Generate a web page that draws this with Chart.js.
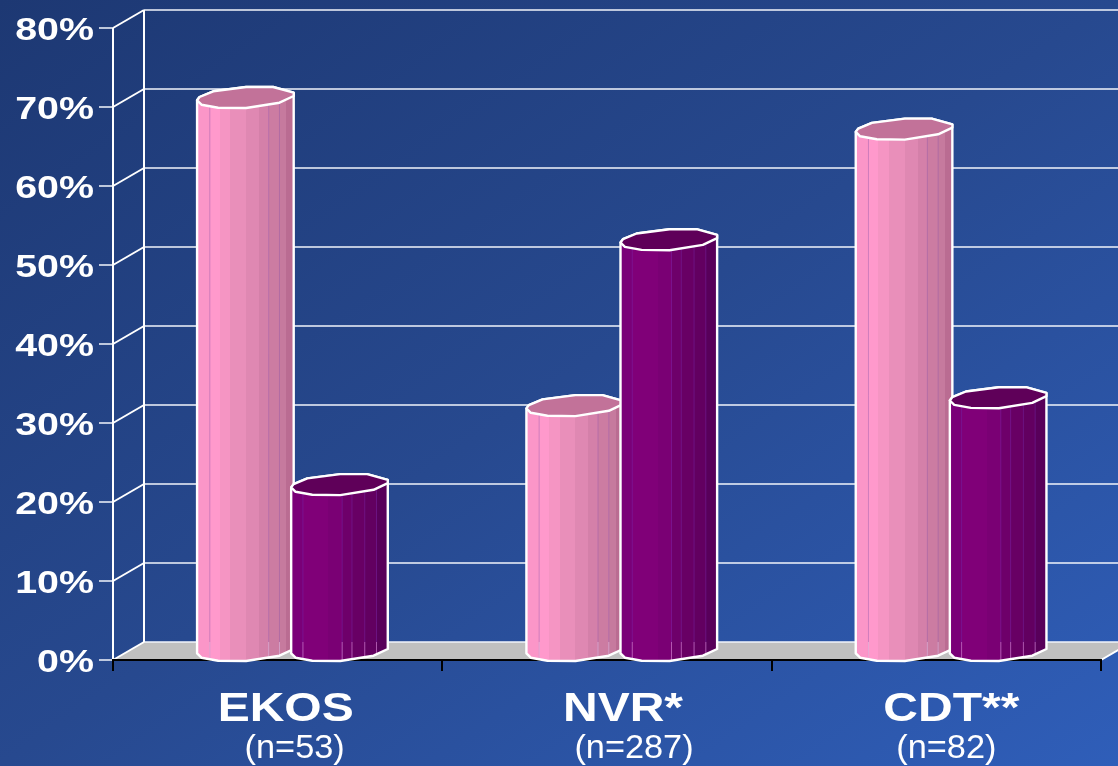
<!DOCTYPE html>
<html>
<head>
<meta charset="utf-8">
<title>Chart</title>
<script src="https://cdn.jsdelivr.net/npm/chart.js@4"></script>
<style>
    html, body { margin: 0; padding: 0; background: #2a4f9f; overflow: hidden; }
    canvas { display: block; }
</style>
</head>
<body>
<canvas id="chart" width="1118" height="766"></canvas>
<script>
const categories = ["EKOS", "NVR*", "CDT**"];
const sampleSizes = ["(n=53)", "(n=287)", "(n=82)"];
const pinkValues = [70, 31, 66];
const purpleValues = [21, 52, 32];

const depthX = 31;
const depthY = 18;

/* text in the picture is wider than the installed fonts */
function wideText(ctx, text, x, y, font, stretch, align) {
    ctx.save();
    ctx.translate(x, y);
    ctx.scale(stretch, 1);
    ctx.font = font;
    ctx.textAlign = align;
    ctx.textBaseline = "alphabetic";
    ctx.fillStyle = "#ffffff";
    ctx.fillText(text, 0, 0);
    ctx.restore();
}

function line(ctx, x1, y1, x2, y2, color, width) {
    ctx.beginPath();
    ctx.moveTo(x1, y1);
    ctx.lineTo(x2, y2);
    ctx.strokeStyle = color;
    ctx.lineWidth = width;
    ctx.stroke();
}

/* background, floor and walls */
const wallsPlugin = {
    id: "walls",
    beforeDraw(chart) {
        const ctx = chart.ctx;
        const { left, right, top, bottom } = chart.chartArea;
        const yScale = chart.scales.y;

        const bg = ctx.createLinearGradient(0, 0, 714, 1042);
        bg.addColorStop(0, "#1d3873");
        bg.addColorStop(0.5, "#27498f");
        bg.addColorStop(1, "#2f5eb9");
        ctx.fillStyle = bg;
        ctx.fillRect(0, 0, chart.width, chart.height);

        ctx.beginPath();
        ctx.moveTo(left, bottom);
        ctx.lineTo(left + depthX, bottom - depthY);
        ctx.lineTo(right + depthX, bottom - depthY);
        ctx.lineTo(right, bottom);
        ctx.closePath();
        ctx.fillStyle = "#c0c0c0";
        ctx.fill();

        yScale.ticks.forEach(t => {
            const y = yScale.getPixelForValue(t.value);
            line(ctx, left + depthX, y - depthY, chart.width, y - depthY, "#f2f5fb", 1.6);
            line(ctx, left, y, left + depthX, y - depthY, "#ffffff", 2);
            line(ctx, left - 14, y, left, y, "#e6ebf5", 1.6);
        });
        line(ctx, left, top, left, bottom, "#ffffff", 2);
        line(ctx, left + depthX, top - depthY, left + depthX, bottom - depthY, "#ffffff", 2);
        line(ctx, right, bottom, right + depthX, bottom - depthY, "#ffffff", 2);
    },
    afterDraw(chart) {
        const ctx = chart.ctx;
        const yScale = chart.scales.y;
        const xScale = chart.scales.x;
        const shiftBold = [8, 16, 15];
        const shiftSmall = [17, 27, 10];

        yScale.ticks.forEach(t => {
            wideText(ctx, t.value + "%", 94, yScale.getPixelForValue(t.value) + 12, "bold 31px 'Liberation Sans'", 1.27, "right");
        });
        categories.forEach((name, i) => {
            const x = xScale.getPixelForValue(i);
            wideText(ctx, name, x + shiftBold[i], 721, "bold 40px 'Liberation Sans'", 1.2, "center");
            wideText(ctx, sampleSizes[i], x + shiftSmall[i], 758, "33px 'Liberation Sans'", 1.04, "center");
        });
    }
};

/* outline of the cylinder end, relative to its centre (x in half widths, y in px) */
const capBack = [[-1, 2.3], [-0.95, -1], [-0.67, -6.7], [0, -11], [0.55, -11], [0.97, -5.3]];
const capFront = [[0.97, -2], [0.68, 4.7], [0, 10], [-0.57, 9.7], [-0.91, 6.7]];

const pinkStrips = [
    [0, "#fb96c8"], [0.13, "#ff99cc"], [0.23, "#f595c3"], [0.34, "#e98fba"], [0.5, "#df88b2"],
    [0.63, "#d480a9"], [0.73, "#cc7ca2"], [0.84, "#c67a9e"], [0.91, "#ba6c92"]
];
const purpleStrips = [
    [0, "#7a0078"], [0.12, "#800078"], [0.38, "#7a0074"], [0.52, "#6e006a"], [0.62, "#680064"],
    [0.75, "#620060"], [0.87, "#58005a"]
];
const pinkSeams = [0.13, 0.73, 0.84];
const purpleSeams = [0.12, 0.52, 0.62, 0.75, 0.87];

function stripFill(ctx, x0, x1, strips) {
    const g = ctx.createLinearGradient(x0, 0, x1, 0);
    strips.forEach((s, i) => {
        g.addColorStop(s[0], s[1]);
        const next = strips[i + 1];
        g.addColorStop(next ? next[0] : 1, s[1]);
    });
    return g;
}

function drawCylinder(ctx, cx, yTop, yBase, half, look) {
    /* body */
    const body = new Path2D();
    body.moveTo(cx + capBack[0][0] * half, yTop + capBack[0][1]);
    body.lineTo(cx + capBack[0][0] * half, yBase + capBack[0][1]);
    capFront.slice().reverse().forEach(p => body.lineTo(cx + p[0] * half, yBase + p[1]));
    capBack.slice().reverse().forEach(p => body.lineTo(cx + p[0] * half, yTop + p[1]));
    body.closePath();
    ctx.fillStyle = stripFill(ctx, cx - half, cx + half, look.strips);
    ctx.fill(body);

    /* seams between the strips, paler where the floor is behind */
    ctx.save();
    ctx.clip(body);
    look.seams.forEach(s => {
        const x = cx - half + s * 2 * half;
        line(ctx, x, yTop, x, yBase + 12, look.seamColor, 1);
        line(ctx, x, yBase - 9, x, yBase + 12, look.seamLow, 1);
    });
    ctx.restore();

    ctx.lineJoin = "round";
    ctx.strokeStyle = "#ffffff";
    ctx.lineWidth = 2.4;
    ctx.stroke(body);

    /* top */
    ctx.beginPath();
    capBack.concat(capFront).forEach((p, i) => {
        const px = cx + p[0] * half;
        const py = yTop + p[1];
        if (i === 0) ctx.moveTo(px, py); else ctx.lineTo(px, py);
    });
    ctx.closePath();
    ctx.fillStyle = look.cap;
    ctx.fill();
    ctx.stroke();
}

const cylinderPlugin = {
    id: "cylinders",
    beforeDatasetsDraw(chart) {
        const ctx = chart.ctx;
        const looks = [
            { strips: pinkStrips, seams: pinkSeams, cap: "#c27299", seamColor: "rgba(150,90,170,0.45)", seamLow: "rgba(255,225,240,0.45)" },
            { strips: purpleStrips, seams: purpleSeams, cap: "#5f0059", seamColor: "rgba(120,40,170,0.45)", seamLow: "rgba(255,170,225,0.45)" }
        ];
        ctx.save();
        looks.forEach((look, d) => {
            chart.getDatasetMeta(d).data.forEach(bar => {
                drawCylinder(ctx, bar.x + depthX / 2, bar.y - depthY / 2, bar.base - depthY / 2, bar.width / 2 + 2, look);
            });
        });
        ctx.restore();
    },
    beforeDatasetDraw() {
        return false;
    }
};

new Chart(document.getElementById("chart"), {
    type: "bar",
    plugins: [wallsPlugin, cylinderPlugin],
    data: {
        labels: categories,
        datasets: [
            { label: "Pink", data: pinkValues, backgroundColor: "#ff99cc" },
            { label: "Purple", data: purpleValues, backgroundColor: "#800080" }
        ]
    },
    options: {
        responsive: false,
        animation: false,
        categoryPercentage: 0.5714,
        barPercentage: 1,
        layout: { padding: { left: 105, right: 17, top: 28, bottom: 95 } },
        plugins: {
            legend: { display: false },
            tooltip: { enabled: false }
        },
        scales: {
            x: {
                ticks: { display: false },
                border: { color: "#000000", width: 2 },
                grid: { offset: true, drawOnChartArea: false, color: "#000000", lineWidth: 2, tickLength: 11 }
            },
            y: {
                min: 0,
                max: 80,
                ticks: { stepSize: 10, display: false },
                border: { display: false },
                grid: { display: false }
            }
        }
    }
});
</script>
</body>
</html>
